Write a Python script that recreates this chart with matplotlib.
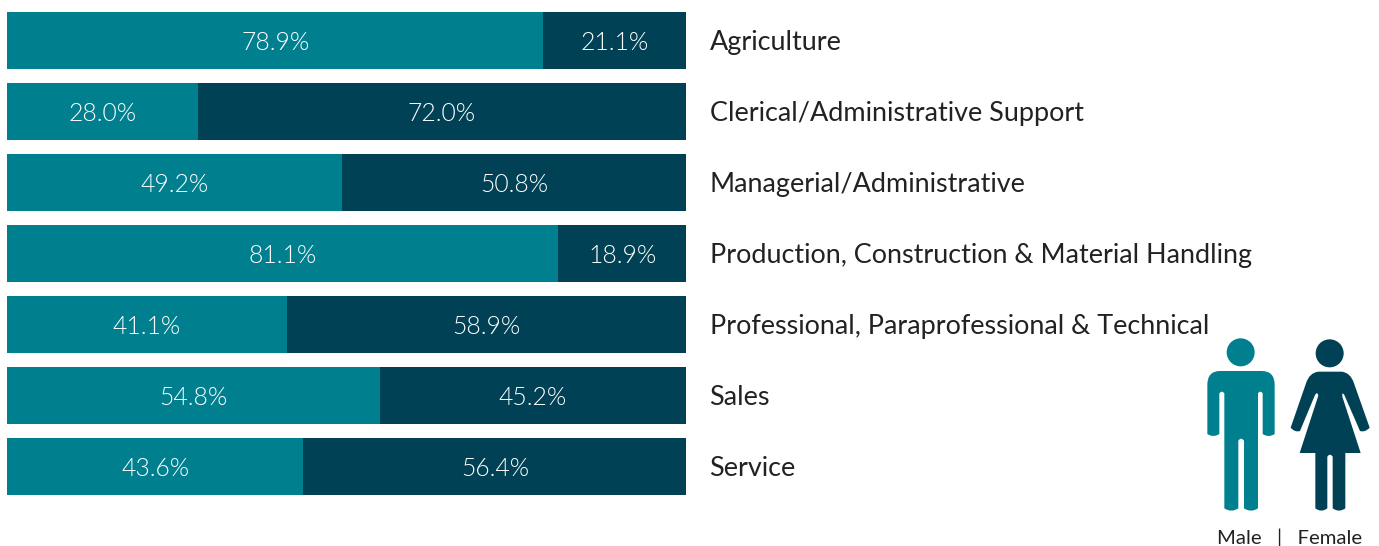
import matplotlib
matplotlib.use("Agg")
import matplotlib.pyplot as plt
from matplotlib.path import Path
from matplotlib.patches import PathPatch, Circle

plt.rcParams['font.family'] = ['Lato', 'DejaVu Sans']

categories = ["Agriculture", "Clerical/Administrative Support", "Managerial/Administrative",
              "Production, Construction & Material Handling", "Professional, Paraprofessional & Technical",
              "Sales", "Service"]
male = [78.9, 28.0, 49.2, 81.1, 41.1, 54.8, 43.6]
female = [21.1, 72.0, 50.8, 18.9, 58.9, 45.2, 56.4]

TEAL = "#00808f"
DARK = "#004155"
W, H = 1379, 546

fig = plt.figure(figsize=(W / 100, H / 100), dpi=100, facecolor="white")

# bars: 7..686 px wide, rows every 71 px
ax = fig.add_axes([7.45 / W, 1 - 502 / H, 679 / W, 497 / H])
ypos = list(range(len(categories)))
ax.barh(ypos, male, height=57 / 71, color=TEAL)
ax.barh(ypos, female, height=57 / 71, left=male, color=DARK)
ax.set_xlim(0, 100)
ax.set_ylim(len(categories) - 0.5, -0.5)
ax.axis("off")

for i in ypos:
    ax.annotate(f"{male[i]:.1f}%", xy=(male[i] / 2, i), xytext=(0, -1.5), textcoords="offset points",
                color="white", fontsize=17.8, fontweight=300, ha="center", va="center")
    ax.annotate(f"{female[i]:.1f}%", xy=(male[i] + female[i] / 2, i), xytext=(0, -1.5), textcoords="offset points",
                color="white", fontsize=17.8, fontweight=300, ha="center", va="center")
    ax.annotate(categories[i], xy=(100, i), xytext=(16.6, -1.5), textcoords="offset points",
                fontsize=19.45, color="#222222", ha="left", va="center")

# people icons, drawn in pixel coords of the figure
ov = fig.add_axes([0, 0, 1, 1])
ov.set_xlim(0, W)
ov.set_ylim(H, 0)
ov.axis("off")


def shape(points):
    # points: ('L', p) or ('Q', ctrl, p)
    verts, codes = [], []
    for i, seg in enumerate(points):
        if i == 0:
            verts.append(seg[1]); codes.append(Path.MOVETO)
        elif seg[0] == 'L':
            verts.append(seg[1]); codes.append(Path.LINETO)
        else:
            verts += [seg[1], seg[2]]; codes += [Path.CURVE3, Path.CURVE3]
    verts = [(1190 + x / 3, 330 + y / 3) for x, y in verts]
    return Path(verts, codes)


man = [('L', (90, 123)), ('L', (215, 123)), ('Q', (254, 123), (254, 165)), ('L', (254, 312)),
       ('Q', (236, 324), (218, 312)), ('L', (218, 190)), ('Q', (211, 180), (204, 190)), ('L', (204, 535)),
       ('Q', (183, 549), (162, 535)), ('L', (162, 332)), ('Q', (153, 320), (145, 332)), ('L', (145, 535)),
       ('Q', (124, 549), (103, 535)), ('L', (103, 190)), ('Q', (96, 180), (88, 190)), ('L', (88, 312)),
       ('Q', (70, 324), (52, 312)), ('L', (52, 165)), ('Q', (52, 123), (90, 123))]
woman = [('L', (385, 125)), ('L', (455, 125)), ('Q', (482, 128), (492, 160)), ('L', (539, 293)),
         ('Q', (525, 308), (510, 303)), ('L', (463, 195)), ('Q', (455, 183), (457, 200)), ('L', (512, 369)),
         ('L', (466, 369)), ('L', (466, 535)), ('Q', (447, 549), (428, 535)), ('L', (428, 380)),
         ('Q', (420, 368), (412, 380)), ('L', (412, 535)), ('Q', (394, 549), (376, 535)), ('L', (376, 369)),
         ('L', (329, 369)), ('L', (385, 197)), ('Q', (382, 183), (375, 195)), ('L', (330, 303)),
         ('Q', (315, 308), (302, 293)), ('L', (348, 160)), ('Q', (358, 128), (385, 125))]

ov.add_patch(PathPatch(shape(man), facecolor=TEAL, edgecolor="none"))
ov.add_patch(PathPatch(shape(woman), facecolor=DARK, edgecolor="none"))
ov.add_patch(Circle((1190 + 152 / 3, 330 + 67 / 3), 14, facecolor=TEAL, edgecolor="none"))
ov.add_patch(Circle((1190 + 419 / 3, 330 + 70 / 3), 14, facecolor=DARK, edgecolor="none"))
ov.text(1289.5, 544, "Male   |   Female", fontsize=14.6, color="#222222", ha="center", va="baseline")

fig.savefig("out.png", dpi=100)
